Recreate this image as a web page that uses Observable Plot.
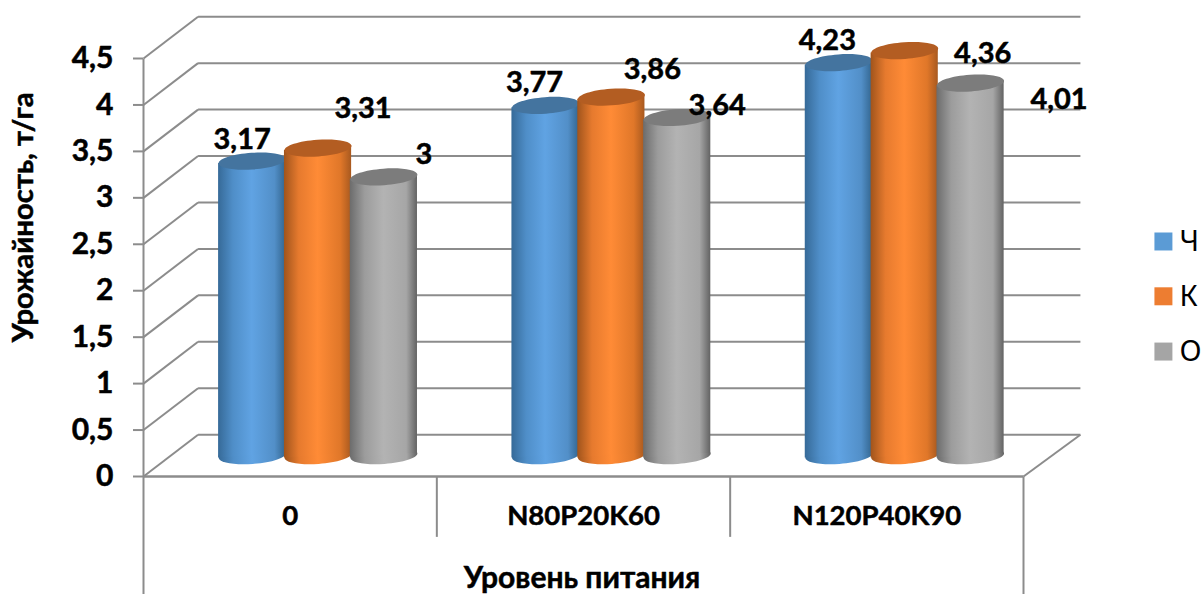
<!DOCTYPE html>
<html>
<head>
<meta charset="utf-8">
<style>html,body{margin:0;padding:0;background:#fff;overflow:hidden}svg{display:block}</style>
<script src="https://cdn.jsdelivr.net/npm/d3@7"></script>
<script src="https://cdn.jsdelivr.net/npm/@observablehq/plot@0.6"></script>
</head>
<body>
<script>
// ---------- data ----------
const categories = ["0", "N80P20K60", "N120P40K90"];
const seriesNames = ["Ч", "К", "О"];
const valuesCh = [3.17, 3.77, 4.23];
const valuesK = [3.31, 3.86, 4.36];
const valuesO = [3.0, 3.64, 4.01];
const yTicks = [0, 0.5, 1, 1.5, 2, 2.5, 3, 3.5, 4, 4.5];
const yTitle = "Урожайность, т/га";
const xTitle = "Уровень питания";

// ---------- layout / style ----------
const seriesValues = [valuesCh, valuesK, valuesO];
const flatColors = ["#5b9bd5", "#ed7d31", "#a5a5a5"];
const capColors = ["#44749f", "#b35d22", "#7c7c7c"];
const gradients = [
  ["#366a98", "#4f8ec8", "#60a3e3", "#528fc8", "#336690"],
  ["#a0541c", "#e67a2e", "#ff8b36", "#e07729", "#a8591f"],
  ["#6c6c6c", "#9c9c9c", "#b3b3b3", "#a6a6a6", "#636363"]
];
const gradStops = [0, 0.22, 0.5, 0.84, 1];
const font = "Lato, 'Open Sans', sans-serif";
const gridColor = "#8c8c8c";
const depthX = 0.186, depthXEnd = 0.194, depthY = 0.45;
const seriesOffset = [-0.2245, 0, 0.2245], groupCenter = 0.595;
const halfWidth = 0.1145, tilt = 0.025;
const ellA = 33.6, ellB = 8.3, ellAngle = -4 * Math.PI / 180;
// label nudges from the top of each bar, px: [series][category]
const labelNudge = [
  [[-10, -21.5], [-11, -23], [-11.5, -22]],
  [[45, -39.5], [41, -27], [78, 3]],
  [[40, -22], [40, -12], [88.5, 17]]
];
const legendX = 3.477, legendTextX = 3.532, legendY = [2.53, 1.94, 1.345];
const heavy = {stroke: "#000", strokeWidth: 0.5, fontWeight: 700, fill: "#000"};

const ellipse = {
  draw(ctx) {
    const k = 0.5523, c = Math.cos(ellAngle), s = Math.sin(ellAngle);
    const P = (x, y) => [x * c - y * s, x * s + y * c];
    const a = ellA, b = ellB;
    ctx.moveTo(...P(a, 0));
    ctx.bezierCurveTo(...P(a, k * b), ...P(k * a, b), ...P(0, b));
    ctx.bezierCurveTo(...P(-k * a, b), ...P(-a, k * b), ...P(-a, 0));
    ctx.bezierCurveTo(...P(-a, -k * b), ...P(-k * a, -b), ...P(0, -b));
    ctx.bezierCurveTo(...P(k * a, -b), ...P(a, -k * b), ...P(a, 0));
    ctx.closePath();
  }
};

const defsMark = () => {
  const ns = "http://www.w3.org/2000/svg";
  const defs = document.createElementNS(ns, "defs");
  gradients.forEach((cols, i) => {
    const g = document.createElementNS(ns, "linearGradient");
    g.setAttribute("id", "cyl" + i);
    g.setAttribute("x1", "0"); g.setAttribute("x2", "1");
    g.setAttribute("y1", "0"); g.setAttribute("y2", "0");
    cols.forEach((col, j) => {
      const st = document.createElementNS(ns, "stop");
      st.setAttribute("offset", gradStops[j]);
      st.setAttribute("stop-color", col);
      g.appendChild(st);
    });
    defs.appendChild(g);
  });
  return defs;
};

const comma = v => String(v).replace(".", ",");
const base = depthY / 2;

// one cylinder per value, drawn series after series
const cylinderMarks = seriesValues.flatMap((vals, s) => {
  const bars = vals.map((v, c) => ({c, v, cx: c + groupCenter + seriesOffset[s], top: v + base}));
  const edges = bars.flatMap(b => [
    {c: b.c, x: b.cx - halfWidth, y1: base - tilt, y2: b.top - tilt},
    {c: b.c, x: b.cx + halfWidth, y1: base + tilt, y2: b.top + tilt}
  ]);
  const fill = `url(#cyl${s})`;
  return [
    Plot.dot(bars, {x: "cx", y: () => base, r: 1, symbol: ellipse, fill, stroke: "none"}),
    Plot.areaY(edges, {x: "x", y1: "y1", y2: "y2", z: "c", fill, stroke: "none", curve: "linear"}),
    Plot.dot(bars, {x: "cx", y: "top", r: 1, symbol: ellipse, fill: capColors[s], stroke: "none"})
  ];
});

const labelMarks = seriesValues.flatMap((vals, s) => vals.map((v, c) =>
  Plot.text([v], {
    x: () => c + groupCenter + seriesOffset[s],
    y: d => d + base,
    text: comma,
    dx: labelNudge[s][c][0],
    dy: labelNudge[s][c][1],
    fontSize: 29, ...heavy, textAnchor: "middle", lineAnchor: "middle"
  })
));

const line = {stroke: gridColor, strokeWidth: 2};

const chart = Plot.plot({
  width: 1202, height: 594,
  marginLeft: 143, marginRight: 179, marginTop: 58, marginBottom: 118,
  style: {fontFamily: font, background: "#fff", color: "#000"},
  x: {domain: [0, 3], axis: null},
  y: {domain: [0, 4.5], axis: null},
  marks: [
    defsMark,
    // back wall gridlines
    Plot.link(yTicks, {x1: depthX, x2: 3 + depthXEnd, y1: d => d + depthY, y2: d => d + depthY, ...line}),
    // side wall diagonals
    Plot.link(yTicks, {x1: 0, x2: depthX, y1: d => d, y2: d => d + depthY, ...line}),
    // floor front edge and right edge
    Plot.link([0], {x1: 0, x2: 3, y1: 0, y2: 0, ...line, strokeWidth: 2.5}),
    Plot.link([0], {x1: 3, x2: 3 + depthXEnd, y1: 0, y2: depthY, ...line}),
    // value axis line, prolonged under the two-level category axis
    Plot.link([0], {x1: 0, x2: 0, y1: 4.5, y2: -1.27, ...line}),
    Plot.link([0], {x1: 3, x2: 3, y1: 0, y2: -1.27, ...line}),
    Plot.link([1, 2], {x1: d => d, x2: d => d, y1: 0, y2: -0.65, ...line}),
    Plot.axisY({
      ticks: yTicks, tickSize: 10, tickPadding: 20, label: null,
      tickFormat: comma, fontSize: 30, fontWeight: 700, stroke: gridColor, strokeWidth: 2,
      textStroke: "#000", textStrokeWidth: 0.5
    }),
    ...cylinderMarks,
    ...labelMarks,
    // category labels
    Plot.text(categories, {
      x: (d, i) => i + 0.5, y: () => -0.43, text: d => d,
      fontSize: 27.5, ...heavy, textAnchor: "middle", lineAnchor: "middle"
    }),
    // axis titles
    Plot.text([xTitle], {
      x: () => 1.495, y: () => -1.1, text: d => d,
      fontSize: 30, ...heavy, textAnchor: "middle", lineAnchor: "middle"
    }),
    Plot.text([yTitle], {
      x: () => -0.409, y: () => 2.79, text: d => d, rotate: -90,
      fontSize: 29.3, ...heavy, textAnchor: "middle", lineAnchor: "middle"
    }),
    // legend
    Plot.dot(seriesNames, {
      x: () => legendX, y: (d, i) => legendY[i], r: 10.15, symbol: "square",
      fill: (d, i) => flatColors[i], stroke: "none"
    }),
    Plot.text(seriesNames, {
      x: () => legendTextX, y: (d, i) => legendY[i], text: d => d,
      fontFamily: "'Noto Sans'", fontSize: 29, textAnchor: "start", lineAnchor: "middle"
    })
  ]
});
document.body.appendChild(chart);
</script>
</body>
</html>
